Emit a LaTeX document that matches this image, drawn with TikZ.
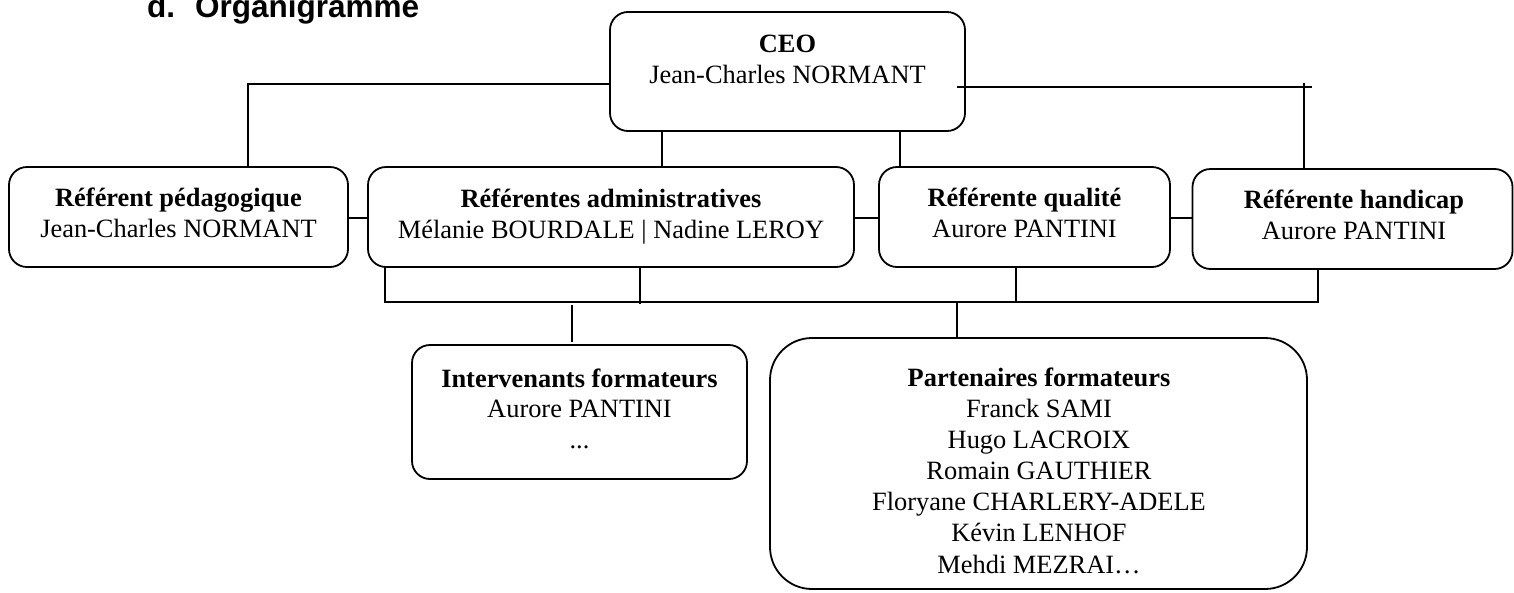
\documentclass[tikz,border=0pt]{standalone}
\usepackage{fontspec}
\setmainfont{Liberation Serif}
\newfontfamily\titlefont{Liberation Sans}
\begin{document}
\begin{tikzpicture}[x=1pt,y=-1pt,
  box/.style={draw, line width=1.8pt, rounded corners=18pt, inner sep=0pt, outer sep=0pt},
  bigbox/.style={box, rounded corners=42pt},
  txt/.style={anchor=base, align=center, inner sep=0pt, font=\fontsize{26.4}{30.4}\selectfont},
  link/.style={line width=1.8pt}]
\useasboundingbox (0,0) rectangle (1514,592);
\node[anchor=base west, inner sep=0pt, font=\titlefont\bfseries\fontsize{31.5}{36}\selectfont] (title) at (147,17) {d.\hspace{20pt}Organigramme};
% boxes
\node[box, minimum width=355pt, minimum height=119pt] (ceo) at (787.5,71.5) {};
\node[box, minimum width=339pt, minimum height=100pt] (ped) at (178.5,217) {};
\node[box, minimum width=486pt, minimum height=100pt] (adm) at (611,217) {};
\node[box, minimum width=291pt, minimum height=100pt] (qual) at (1024.5,217) {};
\node[box, minimum width=320pt, minimum height=100pt] (hand) at (1352.5,219) {};
\node[box, minimum width=335pt, minimum height=134pt] (int) at (579.5,412) {};
\node[bigbox, minimum width=537pt, minimum height=251pt] (part) at (1038.5,463.5) {};
% texts (anchor = baseline of the last line)
\node[txt] (ceot) at (787.5,83) {\textbf{CEO}\\Jean-Charles NORMANT};
\node[txt] (pedt) at (178.5,237) {\textbf{Référent pédagogique}\\Jean-Charles NORMANT};
\node[txt] (admt) at (611,238) {\textbf{Référentes administratives}\\Mélanie BOURDALE | Nadine LEROY};
\node[txt] (qualt) at (1024.5,237) {\textbf{Référente qualité}\\Aurore PANTINI};
\node[txt] (handt) at (1354,239) {\textbf{Référente handicap}\\Aurore PANTINI};
\node[txt] (intt) at (579.5,448) {\textbf{Intervenants formateurs}\\Aurore PANTINI\\...};
\node[txt, font=\fontsize{26.4}{31.1}\selectfont] (partt) at (1039,573) {\textbf{Partenaires formateurs}\\Franck SAMI\\Hugo LACROIX\\Romain GAUTHIER\\Floryane CHARLERY-ADELE\\Kévin LENHOF\\Mehdi MEZRAI…};
% connectors from CEO
\coordinate (xL) at (248,84);
\draw[link] (ceo.west |- xL) -- (xL) -- (ped.north -| xL);
\coordinate (xa) at (662,0);
\coordinate (xb) at (900,0);
\draw[link] (ceo.south -| xa) -- (adm.north -| xa);
\draw[link] (ceo.south -| xb) -- (qual.north -| xb);
\coordinate (rA) at (957,87);
\coordinate (rB) at (1312,87);
\coordinate (rC) at (1304,83);
\draw[link] (rA) -- (rB);
\draw[link] (rC) -- (hand.north -| rC);
% horizontal links between row boxes
\coordinate (hy) at (0,218);
\draw[link] (ped.east |- hy) -- (adm.west |- hy);
\draw[link] (adm.east |- hy) -- (qual.west |- hy);
\draw[link] (qual.east |- hy) -- (hand.west |- hy);
% bus
\coordinate (b1) at (385,302);
\coordinate (b2) at (1318,302);
\coordinate (b3) at (640,304);
\coordinate (b4) at (1016,302);
\draw[link] (adm.south -| b1) -- (b1) -- (b2) -- (hand.south -| b2);
\draw[link] (adm.south -| b3) -- (b3);
\draw[link] (qual.south -| b4) -- (b4);
% lower links
\coordinate (l1) at (572,305);
\coordinate (l1e) at (572,342);
\coordinate (l2) at (957,302);
\draw[link] (l1) -- (l1e);
\draw[link] (l2) -- (part.north -| l2);
\end{tikzpicture}
\end{document}
